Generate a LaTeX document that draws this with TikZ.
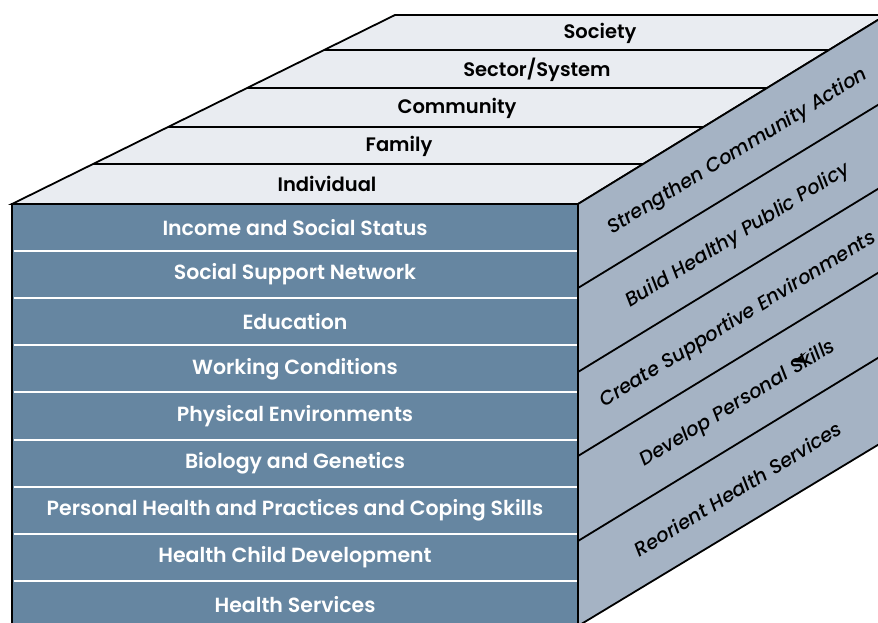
\documentclass[tikz,border=0pt]{standalone}
\usepackage{fontspec}
\usepackage{tikz}
\setmainfont{Poppins}[BoldFont={* SemiBold},ItalicFont={* Medium Italic}]
\definecolor{frontblue}{HTML}{6686A1}
\definecolor{sidegrey}{HTML}{A5B3C4}
\definecolor{topgrey}{HTML}{E9ECF1}
\begin{document}
\begin{tikzpicture}[x=1pt,y=-1pt,
    rowtext/.style={text=white,font=\fontsize{20.5}{24}\selectfont\bfseries,inner sep=0pt},
    toptext/.style={text=black,font=\fontsize{19.5}{24}\selectfont\bfseries,inner sep=0pt},
    sidetext/.style={text=black,font=\fontsize{19.5}{24}\selectfont\itshape,inner sep=0pt,rotate=31.4}]
            \clip (0,0) rectangle (878,622);
            % top face
            \draw[fill=topgrey,line width=1.8pt,line join=miter] (12,204) -- (395,15) -- (886,15) -- (578,204) -- cycle;
            \foreach \y in {50,88,127,164}
                \draw[line width=1.8pt] ({12+(204-\y)*2.026},\y) -- ({578+(204-\y)*1.629},\y);
            % right face
            \draw[fill=sidegrey,line width=1.8pt] (578,204) -- (886,15) -- (886,440) -- (578,626) -- cycle;
            \foreach \y in {288,372,456,541}
                \draw[line width=1.8pt] (578,\y) -- (886,\y-188);
            % front face
            \draw[fill=frontblue,line width=1.8pt] (12,204) rectangle (578,640);
            \foreach \k in {1,...,8}
                \draw[white,line width=2pt] (13.5,204+47.1*\k) -- (576.5,204+47.1*\k);
            \node[toptext] (society) at (600,33) {Society};
            \node[toptext] (sector) at (537,70) {Sector/System};
            \node[toptext] (community) at (457,108) {Community};
            \node[toptext] (family) at (399,146) {Family};
            \node[toptext] (individual) at (327,184) {Individual};
            \node[rowtext] (income) at (295,227.5) {Income and Social Status};
            \node[rowtext] (support) at (295,274.6) {Social Support Network};
            \node[rowtext] (education) at (295,321.7) {Education};
            \node[rowtext] (working) at (295,368.8) {Working Conditions};
            \node[rowtext] (physical) at (295,415.9) {Physical Environments};
            \node[rowtext] (biology) at (295,463) {Biology and Genetics};
            \node[rowtext] (personal) at (295,510.1) {Personal Health and Practices and Coping Skills};
            \node[rowtext] (child) at (295,557.2) {Health Child Development};
            \node[rowtext] (services) at (295,604.3) {Health Services};
            \node[sidetext] (action) at (738,152) {Strengthen Community Action};
            \node[sidetext] (policy) at (738,236) {Build Healthy Public Policy};
            \node[sidetext] (environ) at (738,320) {Create Supportive Environments};
            \node[sidetext] (skills) at (738,404) {Develop Personal Skills};
            \node[sidetext] (reorient) at (738,489) {Reorient Health Services};
            % cursor mark over the S
            \fill[black] (792,362) -- (806,352) -- (801,358) -- (809,363) -- cycle;
        \end{tikzpicture}
\end{document}
